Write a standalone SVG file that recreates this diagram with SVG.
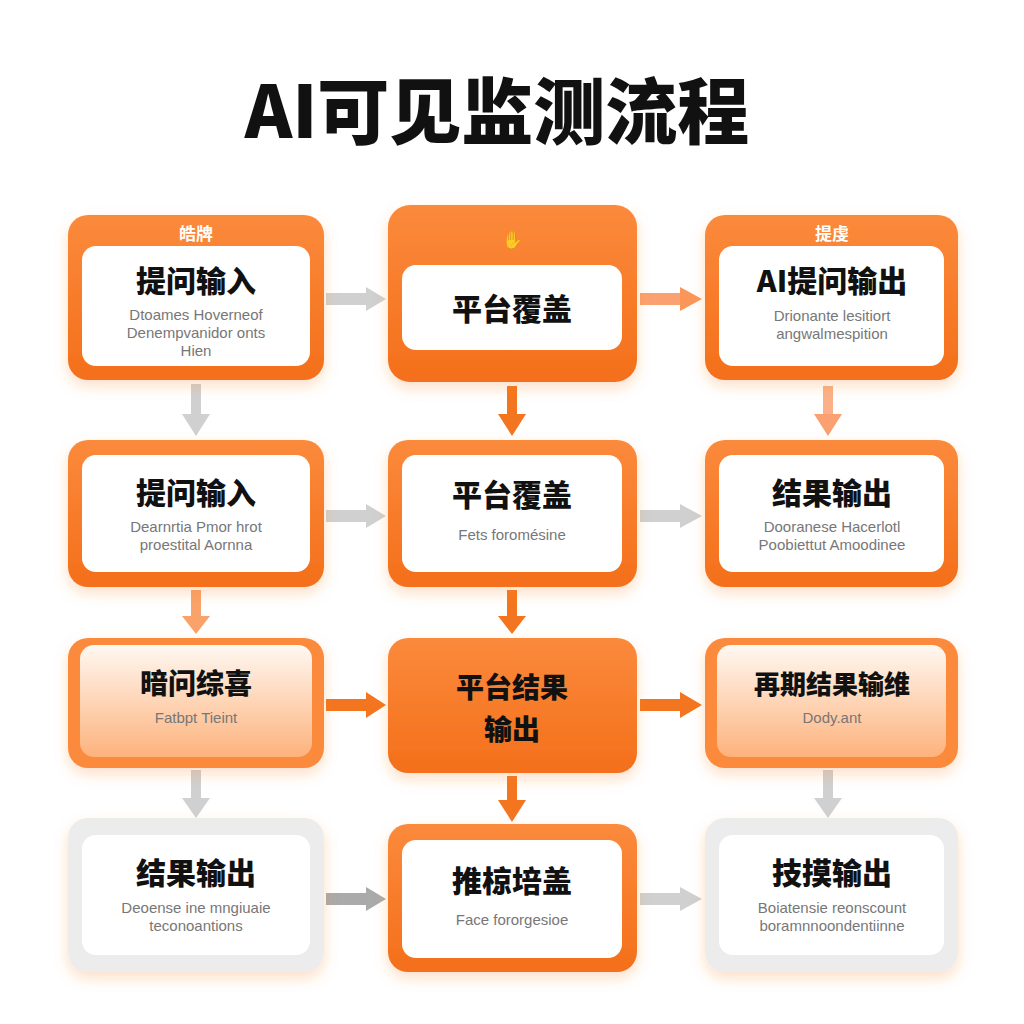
<svg xmlns="http://www.w3.org/2000/svg" width="1024" height="1024" viewBox="0 0 1024 1024">
<defs>
<linearGradient id="og" x1="0" y1="0" x2="0" y2="1"><stop offset="0" stop-color="#fb8a3c"/><stop offset="1" stop-color="#f46f1a"/></linearGradient>
<linearGradient id="fade" x1="0" y1="0" x2="0" y2="1"><stop offset="0" stop-color="#fb8a3c"/><stop offset="0.6" stop-color="#fcc9a4"/><stop offset="1" stop-color="#fde6d4"/></linearGradient>
<linearGradient id="fadein" x1="0" y1="0" x2="0" y2="1"><stop offset="0" stop-color="#fff8f2"/><stop offset="1" stop-color="#fdb27c"/></linearGradient>
<filter id="sh" x="-20%" y="-20%" width="140%" height="150%"><feDropShadow dx="0" dy="6" stdDeviation="7" flood-color="#f47a20" flood-opacity="0.25"/></filter>
<marker id="ag" markerWidth="8" markerHeight="8" refX="4" refY="4" orient="auto" markerUnits="userSpaceOnUse" viewBox="0 0 8 8"><path d="M0,0 L8,4 L0,8z" fill="#cfcfcf"/></marker>
</defs>
<style>
.t{font-family:"Noto Sans CJK SC","Liberation Sans",sans-serif;font-weight:900;fill:#111;text-anchor:middle}
.s{font-family:"Liberation Sans","Noto Sans",sans-serif;font-size:15px;fill:#777;text-anchor:middle}
.w{fill:#fff}
.tag{font-family:"Noto Sans CJK SC",sans-serif;font-weight:700;font-size:17px;fill:#fff;text-anchor:middle}
</style>
<rect width="1024" height="1024" fill="#fff"/>
<text x="497" y="138" class="t" font-size="72">AI可见监测流程</text>

<g id="connectors">
<g fill="#d0d0d0">
<rect x="326" y="293" width="42" height="12"/><path d="M366,287 L386,299 L366,311z"/>
<rect x="326" y="510" width="42" height="12"/><path d="M366,504 L386,516 L366,528z"/>
<rect x="640" y="510" width="42" height="12"/><path d="M680,504 L702,516 L680,528z"/>
<rect x="326" y="893" width="42" height="12" fill="#aaa"/><path d="M366,887 L386,899 L366,911z" fill="#aaa"/>
<rect x="640" y="893" width="42" height="12"/><path d="M680,887 L702,899 L680,911z"/>
<rect x="191" y="384" width="10" height="32"/><path d="M182,414 L196,436 L210,414z"/>
<rect x="191" y="770" width="10" height="30"/><path d="M182,798 L196,818 L210,798z"/>
<rect x="823" y="770" width="10" height="30"/><path d="M814,798 L828,818 L842,798z"/>
</g>
<g fill="#f47520">
<rect x="640" y="293" width="42" height="12" fill="#fba070"/><path d="M680,287 L702,299 L680,311z" fill="#fb9658"/>
<rect x="507" y="386" width="10" height="30"/><path d="M498,414 L512,436 L526,414z"/>
<rect x="823" y="386" width="10" height="30" fill="#fbb088"/><path d="M814,414 L828,436 L842,414z" fill="#fba070"/>
<rect x="191" y="590" width="10" height="28" fill="#f9a36a"/><path d="M182,616 L196,634 L210,616z" fill="#f9a36a"/>
<rect x="507" y="590" width="10" height="28"/><path d="M498,616 L512,634 L526,616z"/>
<rect x="326" y="699" width="42" height="12"/><path d="M366,692 L386,705 L366,718z"/>
<rect x="640" y="699" width="42" height="12"/><path d="M680,692 L702,705 L680,718z"/>
<rect x="507" y="776" width="10" height="26"/><path d="M498,800 L512,822 L526,800z"/>
</g>
</g>

<g id="n1"><rect x="68" y="215" width="256" height="165" rx="20" fill="url(#og)" filter="url(#sh)"/><text x="196" y="240" class="tag">皓牌</text><rect x="82" y="246" width="228" height="120" rx="14" class="w"/><text x="196" y="292" class="t" font-size="30">提问输入</text><text x="196" y="320" class="s">Dtoames Hoverneof</text><text x="196" y="338" class="s">Denempvanidor onts</text><text x="196" y="356" class="s">Hien</text></g>
<g id="n2"><rect x="388" y="205" width="249" height="177" rx="22" fill="url(#og)" filter="url(#sh)"/><text x="512" y="246" class="tag" font-size="22">✋</text><rect x="402" y="265" width="220" height="85" rx="14" class="w"/><text x="512" y="320" class="t" font-size="30">平台覆盖</text></g>
<g id="n3"><rect x="705" y="215" width="253" height="165" rx="20" fill="url(#og)" filter="url(#sh)"/><text x="832" y="240" class="tag">提虔</text><rect x="719" y="246" width="225" height="120" rx="14" class="w"/><text x="832" y="292" class="t" font-size="30">AI提问输出</text><text x="832" y="321" class="s">Drionante lesitiort</text><text x="832" y="339" class="s">angwalmespition</text></g>

<g id="n4"><rect x="68" y="440" width="256" height="147" rx="20" fill="url(#og)" filter="url(#sh)"/><rect x="82" y="455" width="228" height="117" rx="14" class="w"/><text x="196" y="504" class="t" font-size="30">提问输入</text><text x="196" y="532" class="s">Dearnrtia Pmor hrot</text><text x="196" y="550" class="s">proestital Aornna</text></g>
<g id="n5"><rect x="388" y="440" width="249" height="147" rx="20" fill="url(#og)" filter="url(#sh)"/><rect x="402" y="455" width="220" height="117" rx="14" class="w"/><text x="512" y="506" class="t" font-size="30">平台覆盖</text><text x="512" y="540" class="s">Fets foromésine</text></g>
<g id="n6"><rect x="705" y="440" width="253" height="147" rx="20" fill="url(#og)" filter="url(#sh)"/><rect x="719" y="455" width="225" height="117" rx="14" class="w"/><text x="832" y="504" class="t" font-size="30">结果输出</text><text x="832" y="532" class="s">Dooranese Hacerlotl</text><text x="832" y="550" class="s">Poobiettut Amoodinee</text></g>

<g id="n7"><rect x="68" y="638" width="256" height="130" rx="20" fill="#fb8a3c" filter="url(#sh)"/><rect x="80" y="645" width="232" height="112" rx="14" fill="url(#fadein)"/><text x="196" y="694" class="t" font-size="28">暗问综喜</text><text x="196" y="723" class="s">Fatbpt Tieint</text></g>
<g id="n8"><rect x="388" y="638" width="249" height="135" rx="20" fill="url(#og)" filter="url(#sh)"/><text x="512" y="698" class="t" font-size="28">平台结果</text><text x="512" y="740" class="t" font-size="28">输出</text></g>
<g id="n9"><rect x="705" y="638" width="253" height="130" rx="20" fill="#fb8a3c" filter="url(#sh)"/><rect x="717" y="645" width="229" height="112" rx="14" fill="url(#fadein)"/><text x="832" y="694" class="t" font-size="26">再期结果输维</text><text x="832" y="723" class="s">Dody.ant</text></g>

<g id="n10"><rect x="68" y="818" width="256" height="154" rx="20" fill="#ececec" filter="url(#sh)"/><rect x="82" y="835" width="228" height="120" rx="14" class="w"/><text x="196" y="884" class="t" font-size="30">结果输出</text><text x="196" y="913" class="s">Deoense ine mngiuaie</text><text x="196" y="931" class="s">teconoantions</text></g>
<g id="n11"><rect x="388" y="824" width="249" height="148" rx="20" fill="url(#og)" filter="url(#sh)"/><rect x="402" y="840" width="220" height="118" rx="14" class="w"/><text x="512" y="892" class="t" font-size="30">推椋培盖</text><text x="512" y="925" class="s">Face fororgesioe</text></g>
<g id="n12"><rect x="705" y="818" width="253" height="154" rx="20" fill="#ececec" filter="url(#sh)"/><rect x="719" y="835" width="225" height="120" rx="14" class="w"/><text x="832" y="884" class="t" font-size="30">技摸输出</text><text x="832" y="913" class="s">Boiatensie reonscount</text><text x="832" y="931" class="s">boramnnoondentiinne</text></g>
</svg>
